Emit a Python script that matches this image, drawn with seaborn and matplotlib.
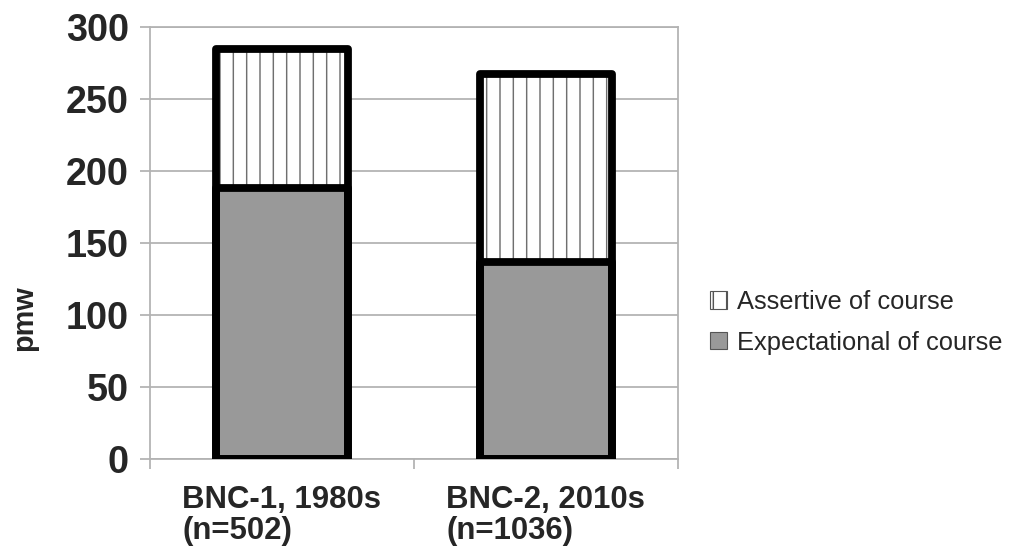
import matplotlib
matplotlib.use("Agg")
import matplotlib.pyplot as plt
import seaborn as sns
from matplotlib.patches import Patch

# data (pmw = per million words)
periods = ["BNC-1, 1980s\n(n=502)", "BNC-2, 2010s\n(n=1036)"]
expectational = [188, 137]
assertive = [97, 130]
totals = [e + a for e, a in zip(expectational, assertive)]

sns.set_style("white")
plt.rcParams["font.family"] = ["Liberation Sans", "DejaVu Sans"]
plt.rcParams["hatch.linewidth"] = 1.3

fig = plt.figure(figsize=(1010 / 80, 550 / 80), dpi=80)
ax = fig.add_axes([0.1485, 0.1655, 0.5225, 0.7855])

grey_line = "#b3b3b3"
bw = 0.5

# top segment (hatched) drawn as full height, bottom segment over it
sns.barplot(x=periods, y=totals, color="white", width=bw, hatch="|",
            edgecolor="#6f6f6f", linewidth=0, saturation=1, ax=ax, zorder=2)
sns.barplot(x=periods, y=expectational, color="#999999", width=bw,
            linewidth=0, saturation=1, ax=ax, zorder=3)
# thick black outlines
for vals in (totals, expectational):
    sns.barplot(x=periods, y=vals, fill=False, width=bw, edgecolor="black",
                linewidth=7, ax=ax, zorder=4)
for p in ax.patches:
    p.set_joinstyle("round")

ax.set_xlim(-0.5, 1.5)
ax.set_ylim(0, 300)
ax.set_yticks(range(0, 301, 50))
ax.yaxis.grid(True, color=grey_line, linewidth=1.6, zorder=0)
ax.set_axisbelow(True)
for s in ax.spines.values():
    s.set_color(grey_line)
    s.set_linewidth(1.6)

ax.set_xticks([-0.5, 0.5, 1.5], minor=True)
ax.tick_params(axis="x", which="major", length=0, pad=23, labelsize=28)
ax.tick_params(axis="x", which="minor", length=9, width=1.6, color=grey_line,
               direction="out", bottom=True)
ax.tick_params(axis="y", length=9, width=1.6, color=grey_line, left=True,
               labelsize=34, pad=10)
for lab in ax.get_xticklabels() + ax.get_yticklabels():
    lab.set_fontweight("bold")
for lab in ax.get_xticklabels():
    lab.set_multialignment("left")
    lab.set_verticalalignment("top")
    lab.set_linespacing(1.08)

ax.set_xlabel("")
ax.set_ylabel("pmw", fontsize=26, fontweight="bold")
ax.yaxis.set_label_coords(-0.212, 0.326)

handles = [
    Patch(facecolor="white", edgecolor="#555555", hatch="|", linewidth=1),
    Patch(facecolor="#999999", edgecolor="#555555", linewidth=1),
]
fig.legend(handles, ["Assertive of course", "Expectational of course"],
           loc="center left", bbox_to_anchor=(0.693, 0.414), frameon=False,
           fontsize=23, handlelength=0.65, handleheight=0.65, handletextpad=0.4,
           labelspacing=0.65, borderaxespad=0)

fig.savefig("out.png", dpi=80)
